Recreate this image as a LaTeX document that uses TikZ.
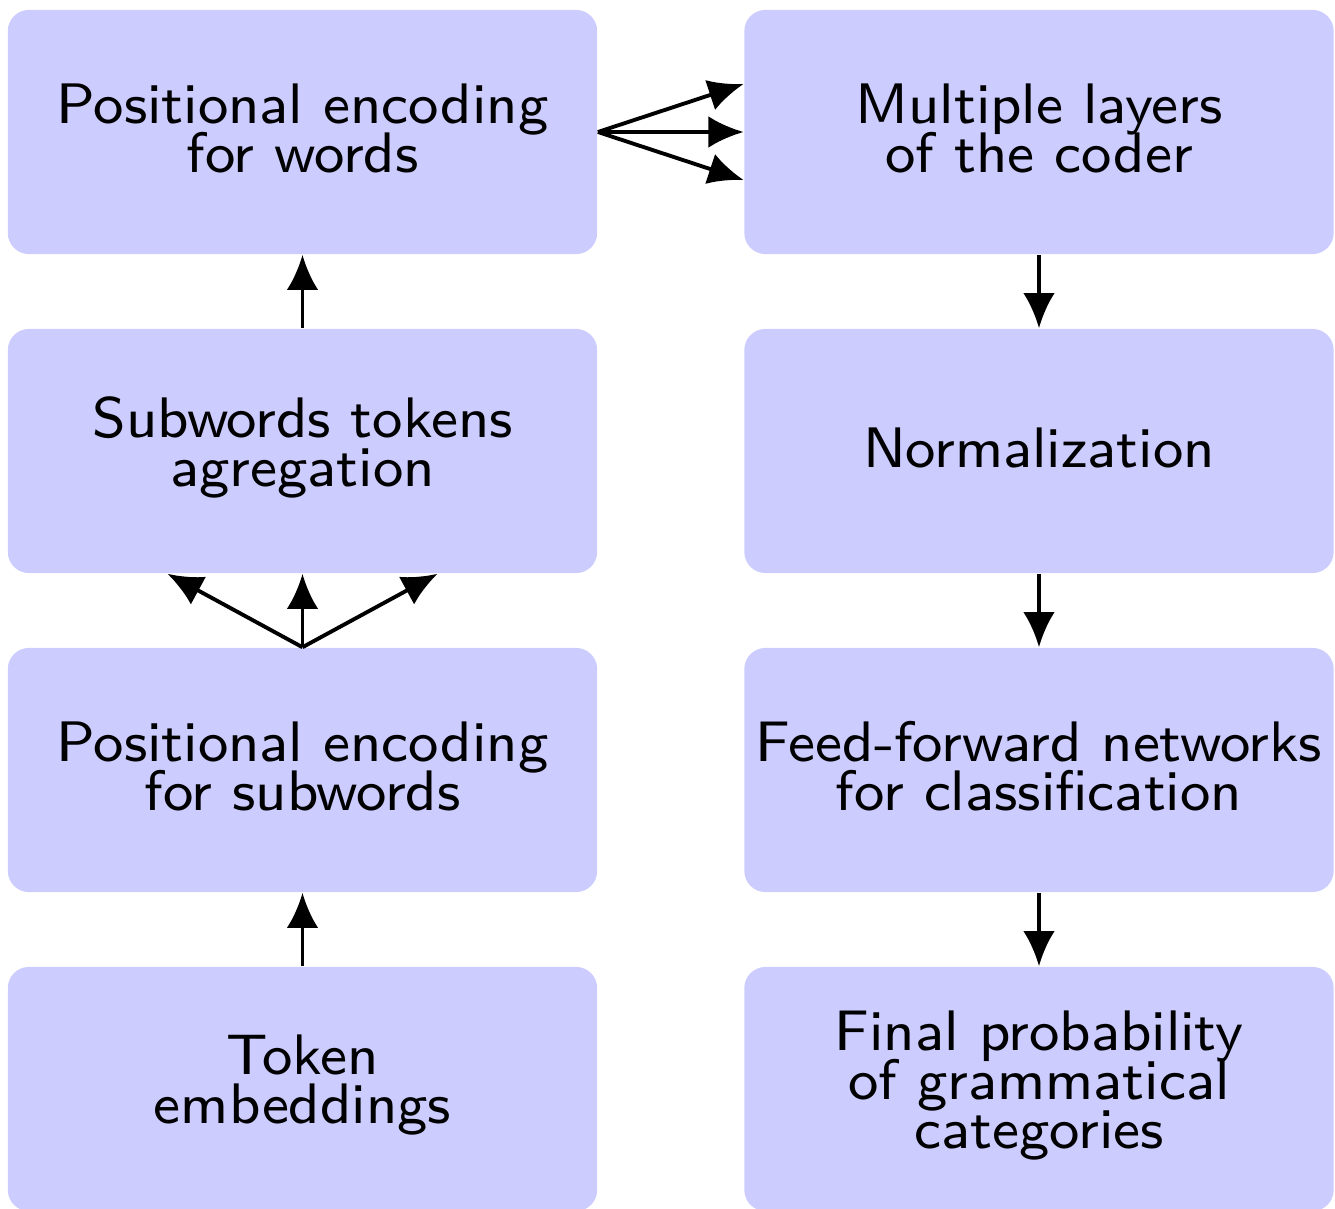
\documentclass[tikz,border=0pt]{standalone}
\usepackage{graphicx}
\usetikzlibrary{arrows.meta}
% small-size Latin Modern Sans design, enlarged, with strict tight line spacing;
% the ink is lifted a little while the box keeps its nominal size
\newcommand\blktext[1]{\raisebox{1pt}[\height][\depth]{\scalebox{2.03}{\parbox[c]{2.85cm}{\centering
  \fontsize{8}{6.87}\selectfont\sffamily\lineskiplimit=-20pt #1}}}}
\begin{document}
\begin{tikzpicture}[x=0.01cm,y=-0.01cm,
  block/.style={fill=blue!20, rounded corners=6pt, minimum width=5.89cm,
    minimum height=2.44cm, align=center, inner sep=0pt},
  flow/.style={-{Latex[length=10pt,width=9pt]}, line width=1.1pt}]
\useasboundingbox (0,0) rectangle (1335,1209);
% left column
\node[block] (pw)  at (302.5,132)  {\blktext{Positional encoding\\for words}};
\node[block] (agg) at (302.5,451)  {\blktext{Subwords tokens\\agregation}};
\node[block] (ps)  at (302.5,770)  {\blktext{Positional encoding\\for subwords}};
\node[block] (tok) at (302.5,1089) {\blktext{Token\\embeddings}};
% right column
\node[block] (enc)  at (1039,132)  {\blktext{Multiple layers\\of the coder}};
\node[block] (norm) at (1039,451)  {\blktext{Normalization}};
\node[block] (ffn)  at (1039,770)  {\blktext{Feed-forward networks\\for classification}};
\node[block] (fin)  at (1039,1089) {\blktext{Final probability\\of grammatical\\categories}};
% upward flow on the left
\draw[flow] (tok.north) -- (ps.south);
\draw[flow] (ps.north) -- (agg.south);
\draw[flow] (ps.north) -- ([xshift=-1.35cm]agg.south);
\draw[flow] (ps.north) -- ([xshift=1.35cm]agg.south);
\draw[flow] (agg.north) -- (pw.south);
% across to the encoder
\draw[flow] (pw.east) -- (enc.west);
\draw[flow] (pw.east) -- ([yshift=0.48cm]enc.west);
\draw[flow] (pw.east) -- ([yshift=-0.48cm]enc.west);
% downward flow on the right
\draw[flow] (enc.south) -- (norm.north);
\draw[flow] (norm.south) -- (ffn.north);
\draw[flow] (ffn.south) -- (fin.north);
\end{tikzpicture}
\end{document}
